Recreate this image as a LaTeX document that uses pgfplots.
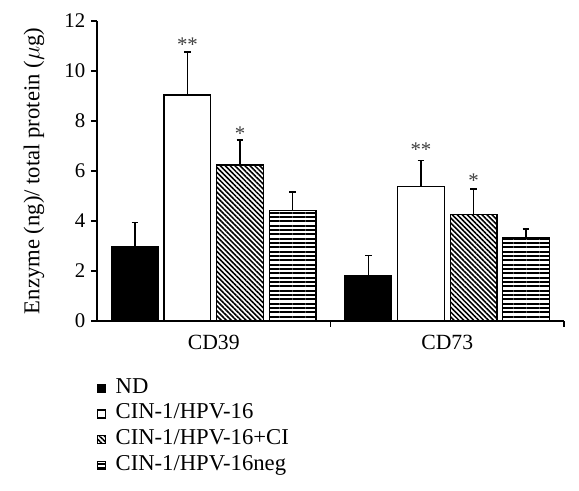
\documentclass[border=0pt]{standalone}
\usepackage{fontspec}
\setmainfont{Liberation Serif}
\usepackage{pgfplots}
\pgfplotsset{compat=1.18}
\usetikzlibrary{patterns.meta}
\newcommand\lbl{\fontsize{12.5}{15}\selectfont}
\newcommand\lblbig{\fontsize{13.6}{16}\selectfont}
\tikzset{
  diagfill/.style={pattern={Lines[angle=-45,distance=2.1pt,line width=0.95pt]}},
  horizfill/.style={pattern={Lines[angle=0,distance=2.6pt,line width=1.15pt]}},
}
\begin{document}
\begin{tikzpicture}[font=\lbl]
\path[use as bounding box] (-58.2pt,-101.4pt) rectangle (289.2pt,192.6pt);
\begin{axis}[
  at={(0,0)}, anchor=south west,
  scale only axis, width=280.2pt, height=180pt,
  xmin=-0.5, xmax=1.5, ymin=0, ymax=12,
  axis lines*=left,
  axis line style={line width=0.8pt},
  ytick={0,2,4,6,8,10,12},
  xtick={0.5,1.5}, xticklabels={},
  extra x ticks={0,1}, extra x tick labels={CD39,CD73},
  extra x tick style={major tick length=0pt, tick label style={yshift=-5pt, font=\fontsize{13}{15}\selectfont}},
  tick align=outside, major tick length=3.5pt,
  tick style={line width=0.8pt, black},
  tick label style={font=\lbl},
  /pgf/number format/assume math mode=true,
  ylabel={Enzyme (ng)/ total protein ($\mu$g)},
  every axis y label/.style={at={(axis description cs:-0.135,0.5)}, rotate=90, anchor=center, font=\lblbig},
  ybar, bar shift=0pt, bar width=0.2,
  every axis plot/.append style={draw=black, line width=0.8pt,
     error bars/y dir=plus, error bars/y explicit,
     error bars/error mark=-,
     error bars/error mark options={mark size=2pt, line width=0.9pt, rotate=90},
     error bars/error bar style={line width=0.9pt}},
  legend style={draw=none, fill=none, at={(0,-0.187)}, anchor=north west,
     inner sep=0pt, row sep=2.4pt, column sep=0pt,
     nodes={inner sep=0.5pt, font=\lblbig, text height=9pt, text depth=3pt}},
  legend cell align=left,
  /tikz/every odd column/.append style={column sep=5pt},
  legend image code/.code={\draw[#1, line width=0.7pt] (0pt,-2.4pt) rectangle (4.8pt,2.4pt);},
]
\addplot[fill=black] coordinates {(-0.3375,2.97) +- (0,0.98) (0.6625,1.80) +- (0,0.83)};
\addlegendentry{ND}
\addplot[fill=white] coordinates {(-0.1125,9.04) +- (0,1.71) (0.8875,5.39) +- (0,1.02)};
\addlegendentry{CIN-1/HPV-16}
\addplot[diagfill] coordinates {(0.1125,6.24) +- (0,1.00) (1.1125,4.25) +- (0,1.02)};
\addlegendentry{CIN-1/HPV-16+CI}
\addplot[horizfill] coordinates {(0.3375,4.41) +- (0,0.74) (1.3375,3.32) +- (0,0.36)};
\addlegendentry{CIN-1/HPV-16neg}
\node[text=black!75, font=\lbl] at (axis cs:-0.1125,11.05) {**};
\node[text=black!75, font=\lbl] at (axis cs:0.1125,7.48) {*};
\node[text=black!75, font=\lbl] at (axis cs:0.8875,6.85) {**};
\node[text=black!75, font=\lbl] at (axis cs:1.1125,5.6) {*};
\end{axis}
\end{tikzpicture}
\end{document}
